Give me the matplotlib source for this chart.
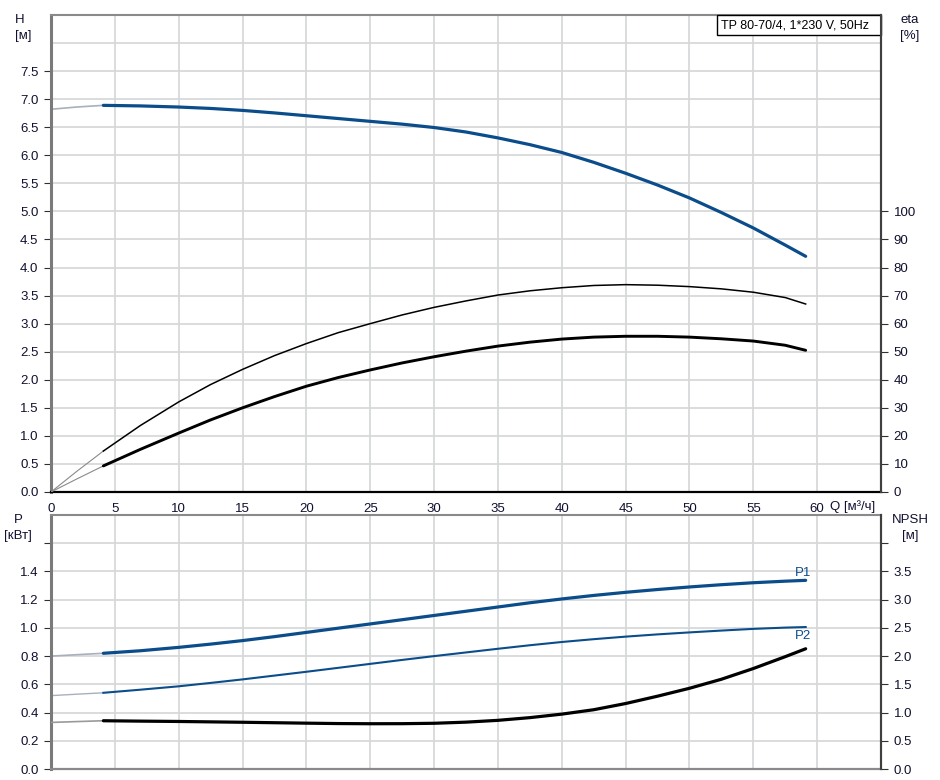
"""
Pump performance curves TP 80-70/4, 1*230 V, 50Hz.
Upper panel: head H and efficiencies, lower panel: power P1/P2 and NPSH.
"""
import numpy as np
import matplotlib
matplotlib.use('Agg')
import matplotlib.pyplot as plt
from matplotlib.patches import Rectangle

plt.rcParams['font.family'] = ['Liberation Sans', 'DejaVu Sans']
plt.rcParams['font.size'] = 9

# Flow [m3/h] for the working range of the curves
q = [4.1, 7.0, 10, 12.5, 15, 17.5, 20, 22.5, 25, 27.5, 30, 32.5, 35, 37.5,
     40, 42.5, 45, 47.5, 50, 52.5, 55, 57.5, 59.1]

# Head H [m]
h = [6.89, 6.88, 6.86, 6.835, 6.80, 6.755, 6.705, 6.655, 6.605, 6.555, 6.495, 6.415,
     6.31, 6.19, 6.05, 5.875, 5.68, 5.47, 5.24, 4.98, 4.705, 4.40, 4.20]
# Efficiencies [%]
eta_pump = [14.6, 23.7, 32.1, 38.3, 43.7, 48.6, 52.9, 56.8, 60.0, 63.1, 65.8, 68.1,
            70.2, 71.7, 72.8, 73.6, 73.9, 73.7, 73.2, 72.4, 71.2, 69.3, 67.0]
eta_total = [9.3, 15.2, 21.0, 25.7, 30.0, 34.0, 37.7, 40.8, 43.5, 46.0, 48.2, 50.2,
             52.0, 53.4, 54.5, 55.2, 55.5, 55.5, 55.2, 54.6, 53.8, 52.3, 50.5]
# Power [kW]
p1 = [0.82, 0.838, 0.862, 0.885, 0.91, 0.938, 0.968, 0.998, 1.028, 1.058, 1.088, 1.118,
      1.148, 1.178, 1.205, 1.23, 1.252, 1.272, 1.29, 1.306, 1.32, 1.331, 1.337]
p2 = [0.54, 0.562, 0.586, 0.61, 0.635, 0.662, 0.689, 0.717, 0.745, 0.773, 0.80, 0.826,
      0.852, 0.877, 0.90, 0.92, 0.938, 0.954, 0.968, 0.981, 0.993, 1.002, 1.006]
# NPSH [m]
npsh = [0.855, 0.848, 0.842, 0.835, 0.828, 0.82, 0.812, 0.805, 0.802, 0.803, 0.81, 0.83,
        0.862, 0.91, 0.972, 1.05, 1.16, 1.29, 1.43, 1.59, 1.78, 1.99, 2.13]

# Extension of the curves down to zero flow (outside working range)
q_ext = [0, 2.0, 4.1]
h_ext = [6.82, 6.86, 6.89]
eta_pump_ext = [0, 7.3, 14.6]
eta_total_ext = [0, 4.6, 9.3]
p1_ext = [0.80, 0.81, 0.82]
p2_ext = [0.52, 0.53, 0.54]
npsh_ext = [0.825, 0.84, 0.855]

x_ticks = np.arange(0, 61, 5)

blue = '#0b4d8a'
ext_col = '#a8b0bc'
txt = '#101030'
grid_col = '#d4d6d8'

fig = plt.figure(figsize=(9.4, 7.8), dpi=100)
ax_h = fig.add_axes([51 / 940, 288 / 780, 830 / 940, 477 / 780])
ax_p = fig.add_axes([51 / 940, 11 / 780, 830 / 940, 254 / 780])


def style_axes(ax, bottom_col):
    ax.set_xlim(0, 65)
    ax.set_xticks(x_ticks)
    ax.grid(True, color=grid_col, lw=1.2)
    ax.set_axisbelow(True)
    ax.spines['left'].set_color('#7a7a7a')
    ax.spines['left'].set_linewidth(2.2)
    ax.spines['top'].set_color('#8a8a8a')
    ax.spines['top'].set_linewidth(1.5)
    ax.spines['right'].set_color('#404040')
    ax.spines['right'].set_linewidth(1.5)
    ax.spines['bottom'].set_color(bottom_col)
    ax.spines['bottom'].set_linewidth(1.6)
    ax.tick_params(axis='y', direction='out', length=5, color='#303030',
                   labelcolor=txt, labelsize=9.5, pad=4)
    ax.tick_params(axis='x', length=0, labelcolor=txt, labelsize=9.5, pad=8)


# ---- upper panel: H and eta
style_axes(ax_h, 'black')
ax_h.set_ylim(0, 8.5)
ax_h.set_yticks(np.arange(0, 7.51, 0.5))
ax_h.axhline(8.0, color=grid_col, lw=1.2, zorder=0)

ax_eta = ax_h.twinx()
ax_eta.set_ylim(0, 170)
ax_eta.set_yticks(np.arange(0, 101, 10))
for s in ['left', 'top', 'bottom']:
    ax_eta.spines[s].set_visible(False)
ax_eta.spines['right'].set_color('#404040')
ax_eta.spines['right'].set_linewidth(1.5)
ax_eta.tick_params(axis='y', direction='out', length=5, color='#303030',
                   labelcolor=txt, labelsize=9.5, pad=4)

ax_h.plot(q_ext, h_ext, color=ext_col, lw=1.2)
ax_h.plot(q, h, color=blue, lw=2.3, solid_capstyle='round')
ax_eta.plot(q_ext, eta_pump_ext, color='#8a8a8a', lw=0.8)
ax_eta.plot(q_ext, eta_total_ext, color='#8a8a8a', lw=0.8)
ax_eta.plot(q, eta_pump, color='black', lw=1.1)
ax_eta.plot(q, eta_total, color='black', lw=2.1, solid_capstyle='round')

ax_h.add_patch(Rectangle((0.8024, 0.958), 0.1976, 0.042, transform=ax_h.transAxes,
                         facecolor='white', edgecolor='black', lw=1, zorder=5,
                         clip_on=False))
ax_h.text(0.807, 0.979, 'TP 80-70/4, 1*230 V, 50Hz', transform=ax_h.transAxes,
          ha='left', va='center', color='black', fontsize=9, zorder=6)

fig.text(20 / 940, 1 - 20 / 780, 'H', ha='center', va='center', color=txt, fontsize=9.5)
fig.text(23 / 940, 1 - 36 / 780, '[м]', ha='center', va='center', color=txt, fontsize=9.5)
fig.text(910 / 940, 1 - 20 / 780, 'eta', ha='center', va='center', color=txt, fontsize=9.5)
fig.text(910 / 940, 1 - 36 / 780, '[%]', ha='center', va='center', color=txt, fontsize=9.5)
fig.text(830 / 940, 1 - 507 / 780, 'Q [м³/ч]', ha='left', va='center', color=txt, fontsize=9.5)

# ---- lower panel: P1, P2 and NPSH
style_axes(ax_p, '#8a8a8a')
ax_p.set_ylim(0, 1.8)
ax_p.set_yticks(np.arange(0, 1.61, 0.2))
ax_p.set_yticklabels([f'{v:.1f}' for v in np.arange(0, 1.41, 0.2)] + [''])
ax_p.set_xticklabels([])

ax_n = ax_p.twinx()
ax_n.set_ylim(0, 4.5)
ax_n.set_yticks(np.arange(0, 4.01, 0.5))
ax_n.set_yticklabels([f'{v:.1f}' for v in np.arange(0, 3.51, 0.5)] + [''])
for s in ['left', 'top', 'bottom']:
    ax_n.spines[s].set_visible(False)
ax_n.spines['right'].set_color('#404040')
ax_n.spines['right'].set_linewidth(1.5)
ax_n.tick_params(axis='y', direction='out', length=5, color='#303030',
                 labelcolor=txt, labelsize=9.5, pad=4)

ax_p.plot(q_ext, p1_ext, color=ext_col, lw=1.2)
ax_p.plot(q_ext, p2_ext, color=ext_col, lw=1.0)
ax_n.plot(q_ext, npsh_ext, color='#9a9a9a', lw=1.2)
ax_p.plot(q, p1, color=blue, lw=2.3, solid_capstyle='round')
ax_p.plot(q, p2, color=blue, lw=1.5)
ax_n.plot(q, npsh, color='black', lw=2.3, solid_capstyle='round')

ax_p.text(58.9, 1.39, 'P1', ha='center', va='center', color=blue, fontsize=9.5)
ax_p.text(58.9, 0.94, 'P2', ha='center', va='center', color=blue, fontsize=9.5)

fig.text(18 / 940, 1 - 520 / 780, 'P', ha='center', va='center', color=txt, fontsize=9.5)
fig.text(18 / 940, 1 - 536 / 780, '[кВт]', ha='center', va='center', color=txt, fontsize=9.5)
fig.text(910 / 940, 1 - 520 / 780, 'NPSH', ha='center', va='center', color=txt, fontsize=9.5)
fig.text(910 / 940, 1 - 536 / 780, '[м]', ha='center', va='center', color=txt, fontsize=9.5)

fig.savefig('out.png', dpi=100, facecolor='white')
